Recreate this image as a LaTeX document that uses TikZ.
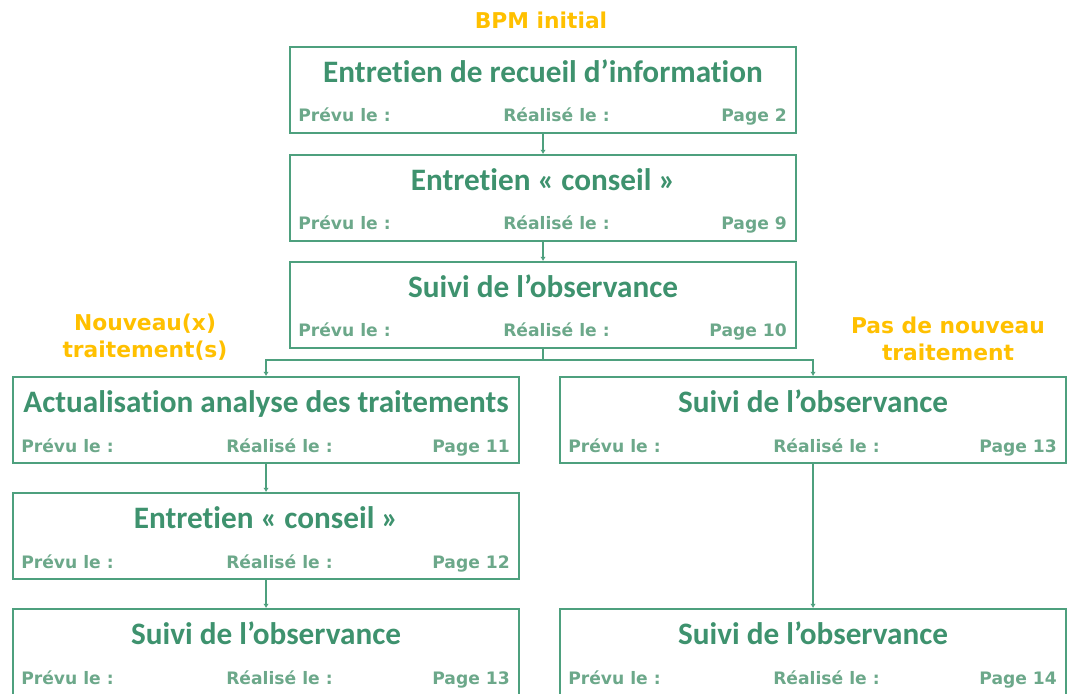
\documentclass[tikz,border=0pt]{standalone}
\usepackage{fontspec}
\setmainfont{DejaVu Sans}
\newfontfamily\titrefont[Ligatures={NoCommon}]{Carlito}
\usetikzlibrary{positioning,arrows.meta}
\definecolor{vert}{RGB}{78,160,126}
\definecolor{vertfonce}{RGB}{62,146,110}
\definecolor{vertclair}{RGB}{108,168,138}
\definecolor{ambre}{RGB}{255,192,0}
\tikzset{
  boite/.style={draw=vert,line width=1.4pt,minimum width=12.65cm,minimum height=2.15cm,anchor=north west,inner sep=0pt},
  titre/.style={text=vertfonce,font=\titrefont\bfseries\fontsize{22.2}{26}\selectfont,inner sep=0pt,anchor=base},
  petit/.style={text=vertclair,font=\bfseries\fontsize{12.2}{14}\selectfont,inner sep=0pt},
  note/.style={text=ambre,font=\bfseries\fontsize{15.5}{19}\selectfont,align=center,inner sep=0pt},
  fleche/.style={draw=vert,line width=1.2pt,-{Latex[length=3pt,width=4pt]}}
}
% boite : nom, x, y, titre, page
\newcommand\etape[5]{
  \node[boite] (#1) at (#2,#3) {};
  \node[titre] (#1-t) at ([shift={(0,36)}]#1.north) {#4};
  \node[petit,anchor=base west] (#1-p) at ([shift={(9,-12)}]#1.south west) {Prévu le :};
  \node[petit,anchor=base west] (#1-r) at ([shift={(214,-12)}]#1.south west) {Réalisé le :};
  \node[petit,anchor=base east] (#1-n) at ([shift={(-10,-12)}]#1.south east) {Page #5};
}
\begin{document}
\begin{tikzpicture}[x=0.025cm,y=-0.025cm]
\useasboundingbox (0,0) rectangle (1067,693);
% colonne du haut
\etape{b1}{289}{46}{Entretien de recueil d’information}{2}
\etape{b2}{289}{154}{Entretien « conseil »}{9}
\etape{b3}{289}{261}{Suivi de l’observance}{10}
% branche gauche
\etape{g1}{12}{376}{Actualisation analyse des traitements}{11}
\etape{g2}{12}{492}{Entretien « conseil »}{12}
\etape{g3}{12}{608}{Suivi de l’observance}{13}
% branche droite
\etape{d1}{559}{376}{Suivi de l’observance}{13}
\etape{d2}{559}{608}{Suivi de l’observance}{14}
% textes oranges
\node[note] (bpm) at (541,20) {BPM initial};
\node[note] (nouv) at (145,337) {Nouveau(x)\\traitement(s)};
\node[note] (pasnouv) at (948,339) {Pas de nouveau\\traitement};
% liaisons
\coordinate (bif) at (b3.south |- 0,360);
\draw[fleche] (b1) -- (b2);
\draw[fleche] (b2) -- (b3);
\draw[draw=vert,line width=1.2pt] (b3.south) -- (bif);
\draw[fleche] (bif) -| (g1.north);
\draw[fleche] (bif) -| (d1.north);
\draw[fleche] (g1) -- (g2);
\draw[fleche] (g2) -- (g3);
\draw[fleche] (d1) -- (d2);
\end{tikzpicture}
\end{document}
